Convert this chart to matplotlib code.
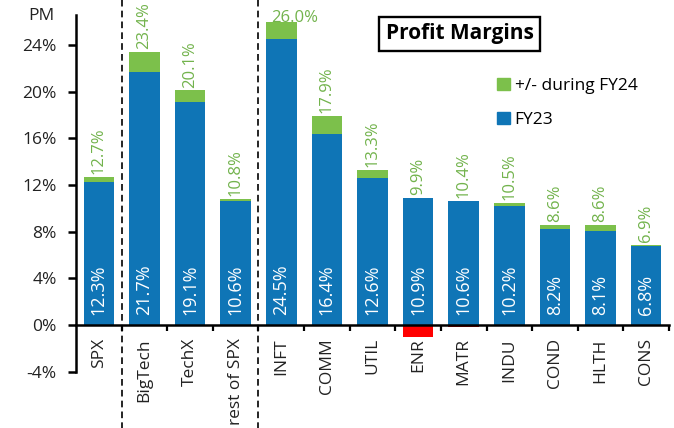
import matplotlib
matplotlib.use("Agg")
import matplotlib.pyplot as plt
from matplotlib.patches import Patch
import numpy as np

categories = ["SPX", "BigTech", "TechX", "rest of SPX", "INFT", "COMM", "UTIL",
              "ENR", "MATR", "INDU", "COND", "HLTH", "CONS"]
fy23 = [12.3, 21.7, 19.1, 10.6, 24.5, 16.4, 12.6, 10.9, 10.6, 10.2, 8.2, 8.1, 6.8]
fy24 = [12.7, 23.4, 20.1, 10.8, 26.0, 17.9, 13.3, 9.9, 10.4, 10.5, 8.6, 8.6, 6.9]
y_ticks = [-4, 0, 4, 8, 12, 16, 20, 24]
group_breaks = [0.5, 3.5]

BLUE = "#0F75B6"
GREEN = "#7CC04B"
RED = "#FF0000"
LABEL_GREEN = "#72B34C"

plt.rcParams["font.family"] = ["Open Sans", "DejaVu Sans"]

W, H = 674, 428
fig = plt.figure(figsize=(W / 100, H / 100), dpi=100)
ax = fig.add_axes([76 / W, 56.3 / H, 593 / W, 356.7 / H])

x = np.arange(len(categories))
a = np.array(fy23)
b = np.array(fy24)
chg = b - a
up = np.where(chg > 0, chg, 0)
down = np.where(chg < 0, chg, 0)
w = 0.67

ax.bar(x, a, w, color=BLUE, zorder=2)
ax.bar(x, up, w, bottom=a, color=GREEN, zorder=2)
ax.bar(x, down, w, color=RED, zorder=2)

# value labels
for i in x:
    top = max(a[i], b[i])
    if categories[i] == "INFT":
        ax.text(i + 0.3, b[i], f"{b[i]:.1f}%", ha="center", va="baseline",
                color=LABEL_GREEN, fontsize=12, zorder=3)
    else:
        ax.text(i, top + 0.25, f"{b[i]:.1f}%", rotation=90, ha="center",
                va="bottom", color=LABEL_GREEN, fontsize=12, zorder=3)
    ax.text(i, 0.85, f"{a[i]:.1f}%", rotation=90, ha="center", va="bottom",
            color="white", fontsize=13, zorder=3)

# group separators
for gx in group_breaks:
    ax.axvline(gx, ymin=-0.17, ymax=1.05, clip_on=False, color="black",
               ls=(0, (4, 2.5)), lw=1.2, zorder=1)

ax.set_xlim(-0.5, 12.5)
ax.set_ylim(-4, 26.57)

ax.spines[["top", "right"]].set_visible(False)
ax.spines["bottom"].set_position(("data", 0))
for s in ["left", "bottom"]:
    ax.spines[s].set_linewidth(1.8)
    ax.spines[s].set_zorder(4)

ax.set_xticks(x)
ax.set_xticklabels(categories, rotation=90, fontsize=12.5, color="#222222")
ax.set_xticks(np.arange(0.5, 13, 1), minor=True)
ax.tick_params(axis="x", which="major", length=0, pad=9.5)
ax.tick_params(axis="x", which="minor", length=4, width=1.6, direction="out")

ax.set_yticks(y_ticks)
ax.set_yticklabels([f"{v}%" for v in y_ticks], fontsize=12.5, color="#222222")
ax.tick_params(axis="y", length=5.8, width=1.8, pad=8)

fig.text(55 / W, 1 - 16 / H, "PM", ha="right", va="center", fontsize=12.5,
         color="#222222")

fig.text(459.5 / W, 1 - 34 / H, "Profit Margins", ha="center", va="center",
         fontsize=15, fontweight="bold",
         bbox=dict(boxstyle="square,pad=0.3", fc="white", ec="black", lw=1.7))

handles = [Patch(color=GREEN, label="+/- during FY24"),
           Patch(color=BLUE, label="FY23")]
fig.legend(handles=handles, loc="upper left", bbox_to_anchor=(497 / W, 1 - 78 / H),
           frameon=False, fontsize=12.5, handlelength=0.72, handleheight=0.72,
           handletextpad=0.3, labelspacing=1.0, borderpad=0, borderaxespad=0)

fig.savefig("out.png", dpi=100)
